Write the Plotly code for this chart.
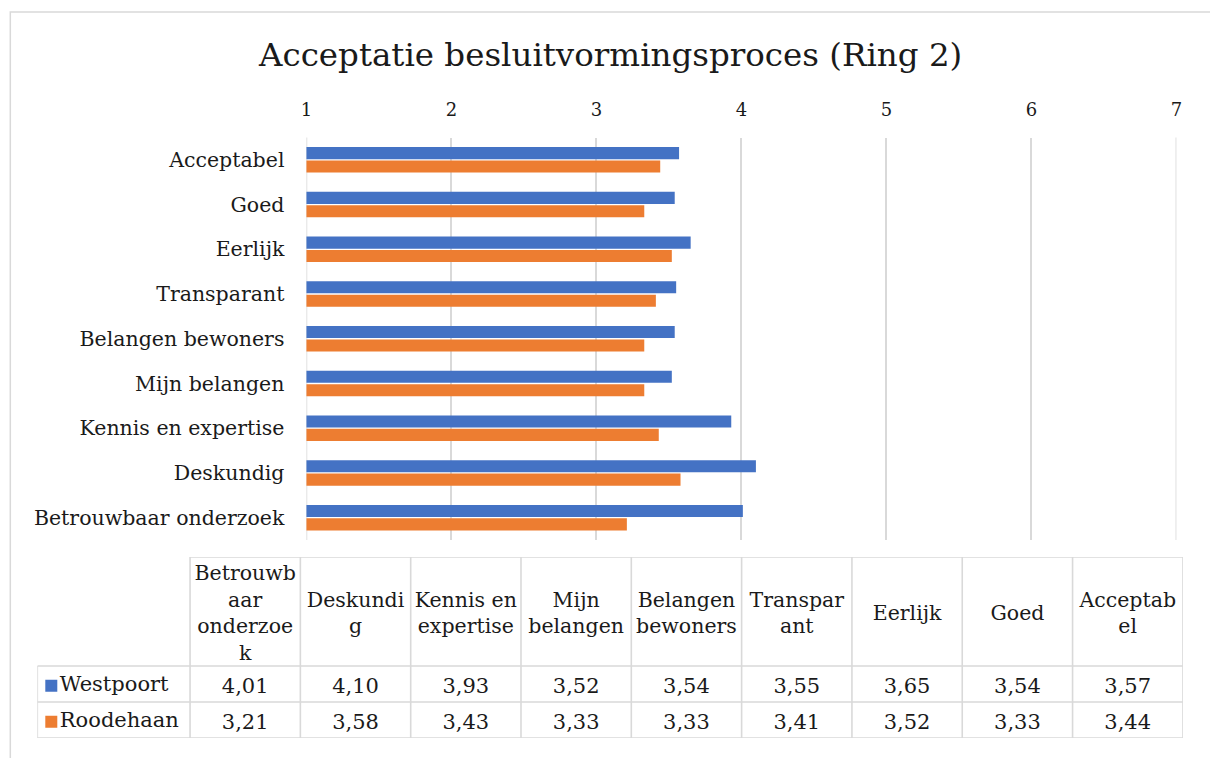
import plotly.graph_objects as go

# ---------------- data ----------------
categories = ["Betrouwbaar onderzoek", "Deskundig", "Kennis en expertise", "Mijn belangen",
              "Belangen bewoners", "Transparant", "Eerlijk", "Goed", "Acceptabel"]
header_labels = ["Betrouwb<br>aar<br>onderzoe<br>k", "Deskundi<br>g", "Kennis en<br>expertise",
                 "Mijn<br>belangen", "Belangen<br>bewoners", "Transpar<br>ant", "Eerlijk", "Goed",
                 "Acceptab<br>el"]
westpoort = [4.01, 4.10, 3.93, 3.52, 3.54, 3.55, 3.65, 3.54, 3.57]
roodehaan = [3.21, 3.58, 3.43, 3.33, 3.33, 3.41, 3.52, 3.33, 3.44]
series_names = ["Westpoort", "Roodehaan"]
x_ticks = [1, 2, 3, 4, 5, 6, 7]
title_text = "Acceptatie besluitvormingsproces (Ring 2)"

# ---------------- styling ----------------
W, H = 1210, 758
BLUE, ORANGE = "#4472C4", "#ED7D31"
GRID = "#d9d9d9"
FONT = "DejaVu Serif"
TXT = "#1a1a1a"
SX, BX = 0.9896, 5.7             # horizontal correction for the capture


def px(x):
    return ((x - BX) / SX) / W


def py(y):
    return 1 - y / H


def fmt(v):
    return f"{v:.2f}".replace(".", ",")


fig = go.Figure()

# bars (second trace is drawn on top within each group)
fig.add_trace(go.Bar(y=categories, x=roodehaan, name=series_names[1], orientation="h",
                     marker=dict(color=ORANGE, line=dict(width=0)), showlegend=False))
fig.add_trace(go.Bar(y=categories, x=westpoort, name=series_names[0], orientation="h",
                     marker=dict(color=BLUE, line=dict(width=0)), showlegend=False))

# ---------------- data table (own axes) ----------------
COLW = 110.5
HDR = (190 - 37) / COLW          # row-header column width in column units
ROWH = 36.0
HEAD = (666 - 557) / ROWH        # header height in row units
TOP = 2 + HEAD
n = len(categories)
DY = 3.5 / ROWH                  # optical shift of text downwards

# header texts
fig.add_trace(go.Scatter(x=[i + 0.5 for i in range(n)], y=[2 + HEAD / 2 - DY] * n, mode="text",
                         text=header_labels, textposition="middle center",
                         textfont=dict(family=FONT, size=20.5, color=TXT),
                         xaxis="x2", yaxis="y2", showlegend=False, hoverinfo="skip",
                         cliponaxis=False))
# values
for vals, yrow in [(westpoort, 1.5), (roodehaan, 0.5)]:
    fig.add_trace(go.Scatter(x=[i + 0.5 for i in range(n)], y=[yrow - DY] * n, mode="text",
                             text=[fmt(v) for v in vals], textposition="middle center",
                             textfont=dict(family=FONT, size=21, color=TXT),
                             xaxis="x2", yaxis="y2", showlegend=False, hoverinfo="skip",
                             cliponaxis=False))
# legend keys in row header
fig.add_trace(go.Scatter(x=[-HDR + 14 / COLW] * 2, y=[1.5 - DY / 2, 0.5 - DY / 2], mode="markers+text",
                         text=series_names, textposition="middle right",
                         marker=dict(symbol="square", size=12, color=[BLUE, ORANGE]),
                         textfont=dict(family=FONT, size=21, color=TXT),
                         xaxis="x2", yaxis="y2", showlegend=False, hoverinfo="skip",
                         cliponaxis=False))

shapes = []
line = dict(color=GRID, width=1.6)
# horizontal table lines
for yv in [0, 1, 2]:
    shapes.append(dict(type="line", xref="x2", yref="y2", x0=-HDR, x1=n, y0=yv, y1=yv, line=line))
shapes.append(dict(type="line", xref="x2", yref="y2", x0=0, x1=n, y0=TOP, y1=TOP, line=line))
# vertical table lines
shapes.append(dict(type="line", xref="x2", yref="y2", x0=-HDR, x1=-HDR, y0=0, y1=2, line=line))
for i in range(n + 1):
    shapes.append(dict(type="line", xref="x2", yref="y2", x0=i, x1=i, y0=0, y1=TOP, line=line))
# outer chart border
shapes.append(dict(type="rect", xref="paper", yref="paper", x0=px(10), x1=px(1260),
                   y0=py(790), y1=py(12), line=dict(color=GRID, width=1.5)))
# edge gridlines (plotly skips grid at the range ends)
for xv in [x_ticks[0], x_ticks[-1]]:
    shapes.append(dict(type="line", xref="x", yref="y domain", x0=xv, x1=xv, y0=0, y1=1,
                       line=dict(color=GRID, width=1.6), layer="below"))

fig.update_layout(
    width=W, height=H,
    margin=dict(l=0, r=0, t=0, b=0),
    paper_bgcolor="white", plot_bgcolor="white",
    barmode="group", bargap=0.4, bargroupgap=0.1,
    font=dict(family=FONT, color=TXT),
    shapes=shapes,
    xaxis=dict(domain=[px(306), px(1175.5)], range=[1, 7], side="top", tickvals=x_ticks,
               showgrid=True, gridcolor=GRID, gridwidth=1.6, zeroline=False, showline=False,
               ticks="", tickfont=dict(family=FONT, size=18, color=TXT), ticklabelstandoff=17),
    yaxis=dict(domain=[py(540), py(137.5)], showgrid=False, zeroline=False, showline=False,
               ticks="", tickfont=dict(family=FONT, size=20.5, color=TXT), ticklabelstandoff=21,
               categoryorder="array", categoryarray=categories),
    xaxis2=dict(domain=[px(37), px(1182)], range=[-HDR, n], visible=False, fixedrange=True),
    yaxis2=dict(domain=[py(738), py(557)], range=[0, TOP], visible=False, fixedrange=True),
    annotations=[dict(text=title_text, x=px(609), y=py(55), xref="paper", yref="paper",
                      showarrow=False, xanchor="center", yanchor="middle",
                      font=dict(family=FONT, size=32.5, color=TXT))],
)

fig.write_html("out.html", config={"displayModeBar": False},
               post_script="document.body.style.margin='0';document.body.style.overflow='hidden';")
